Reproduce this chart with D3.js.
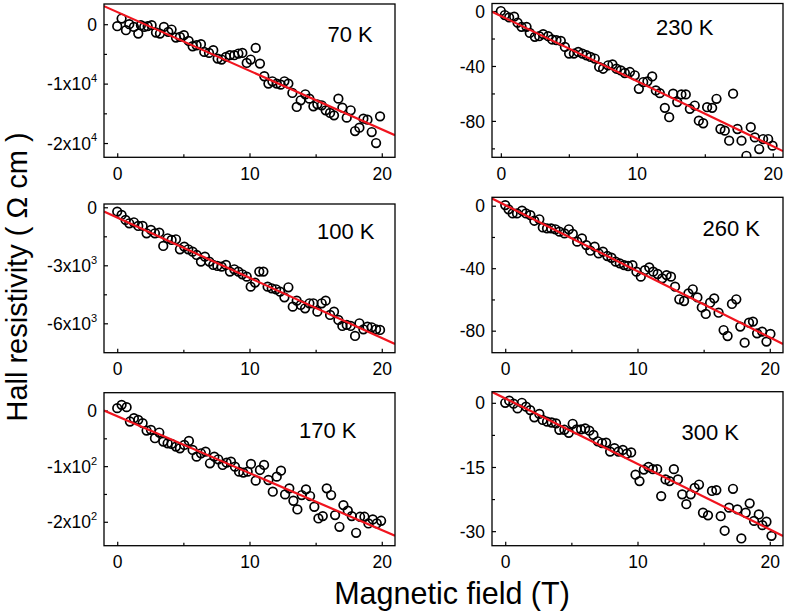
<!DOCTYPE html>
<html><head><meta charset="utf-8">
<script src="https://cdn.jsdelivr.net/npm/d3@7"></script>
<style>body{margin:0;background:#fff} text{font-family:Arial,"Liberation Sans",sans-serif;fill:#000}</style>
</head><body><svg id="c" width="787" height="615"></svg>
<script>
// ---------- data ----------
const temperatures = ["70 K","230 K","100 K","260 K","170 K","300 K"];

const field1 = [0,0.33,0.66,0.91,1.26,1.59,1.79,2.04,2.3,2.6,2.93,3.23,3.53,3.86,4.11,4.44,4.74,5.04,5.4,5.7,6.0,6.33,6.58,6.94,7.26,7.59,7.89,8.22,8.52,8.85,9.16,9.46,9.79,10.09,10.47,10.79,11.12,11.43,11.73,12.06,12.36,12.64,12.94,13.24,13.57,13.87,14.22,14.53,14.83,15.13,15.46,15.76,16.09,16.39,16.72,17.02,17.35,17.65,17.98,18.31,18.61,18.92,19.24,19.57,19.87];
const hall1 = [-340,950,-1010,0,-450,-1570,-170,-450,-340,-170,-1400,-1570,-450,-1290,-900,-2250,-2130,-1850,-2810,-3710,-3540,-3370,-4660,-4830,-4380,-5790,-5950,-5510,-5220,-5220,-4940,-4830,-6520,-5950,-3990,-6630,-8760,-10000,-9610,-10000,-10170,-9610,-10000,-11570,-13930,-12810,-11800,-12530,-13820,-13480,-13650,-14490,-14940,-15340,-12530,-14040,-15730,-14490,-17980,-17420,-15900,-16070,-18150,-20000,-15510];

const field2 = [0,0.29,0.61,0.98,1.23,1.52,1.89,2.13,2.5,2.82,3.11,3.48,3.77,4.09,4.41,4.71,5.02,5.37,5.69,6.0,6.3,6.59,6.91,7.23,7.52,7.89,8.21,8.5,8.82,9.12,9.49,9.85,10.15,10.47,10.78,11.13,11.4,11.69,12.06,12.38,12.67,12.97,13.28,13.6,13.9,14.26,14.56,14.88,15.17,15.54,15.86,16.15,16.47,16.79,17.08,17.4,17.7,18.06,18.38,18.68,19.0,19.29,19.66,19.98];
const hall2 = [0,-2.9,-4.6,-4.1,-8.5,-11.5,-11.5,-15.9,-18.8,-18.3,-16.8,-18.3,-20.7,-21.2,-21.7,-26.1,-31,-31,-29.8,-31,-32.2,-33.4,-34.6,-40.7,-42,-39.5,-38.8,-42,-43.2,-45.1,-44.4,-46.8,-56.6,-51.7,-51.2,-47.6,-57.8,-59.8,-70.5,-77.3,-60.2,-66.3,-60.7,-60.7,-71.2,-68.8,-79.8,-81.7,-70,-70.5,-63.9,-85.9,-87.1,-94.4,-60.2,-85.9,-94.4,-105.4,-84.6,-92,-100.5,-93.2,-93.2,-98];

const field3 = [0,0.33,0.63,0.91,1.26,1.59,1.92,2.22,2.55,2.85,3.18,3.48,3.81,4.11,4.44,4.74,5.07,5.37,5.7,6.0,6.33,6.63,6.96,7.26,7.57,7.89,8.22,8.52,8.85,9.16,9.46,9.79,10.09,10.42,10.74,11.05,11.37,11.68,12.01,12.31,12.64,12.94,13.27,13.57,13.87,14.2,14.53,14.83,15.13,15.46,15.76,16.09,16.39,16.72,17.02,17.35,17.65,17.98,18.31,18.61,18.92,19.24,19.57,19.87];
const hall3 = [-224,-397,-655,-828,-776,-966,-966,-1345,-1172,-1345,-1310,-2000,-1603,-1690,-1655,-2172,-2034,-2172,-2293,-2465,-2810,-2552,-2810,-2983,-3034,-3069,-2983,-3327,-3207,-3327,-3465,-3586,-4103,-3896,-3327,-3327,-4103,-4189,-4241,-4362,-4655,-4138,-5138,-4827,-5051,-5224,-4965,-4965,-5396,-4965,-4827,-5568,-5396,-5827,-6137,-6086,-6137,-6655,-6000,-6310,-6172,-6206,-6310,-6344];

const field4 = [0,0.25,0.56,0.89,1.27,1.57,1.9,2.2,2.58,2.84,3.16,3.47,3.8,4.1,4.48,4.81,5.11,5.44,5.8,6.13,6.43,6.76,7.06,7.39,7.72,8.03,8.35,8.66,8.99,9.29,9.62,9.92,10.25,10.56,10.89,11.19,11.52,11.87,12.2,12.53,12.84,13.16,13.52,13.85,14.18,14.53,14.86,15.16,15.49,15.8,16.13,16.51,16.81,17.14,17.47,17.77,18.1,18.43,18.73,19.04,19.42,19.75,20.05];
const hall4 = [0.4,-2.3,-4.9,-4.9,-3.2,-4.9,-6,-9.6,-8.7,-13.9,-14.5,-14.5,-15.1,-16.6,-17.7,-15.1,-18.1,-23,-20.9,-25.2,-28.8,-26.2,-30.5,-29.4,-32.2,-33.3,-35.8,-36.9,-38,-38.6,-38,-42.2,-45.4,-41.2,-39.5,-42.2,-43.7,-46.5,-44.4,-45.4,-51.8,-59.9,-61,-56.1,-53.5,-58.7,-65.1,-69.3,-62.1,-59.3,-68.5,-79.6,-83.4,-62.9,-59.9,-77.4,-87.7,-74.9,-74.2,-81.7,-80.6,-87,-82.1];

const field5 = [0,0.33,0.71,0.96,1.26,1.59,1.92,2.22,2.55,2.85,3.18,3.48,3.81,4.11,4.44,4.74,5.07,5.42,5.7,6.0,6.33,6.68,7.01,7.34,7.64,7.97,8.27,8.6,8.9,9.21,9.53,9.86,10.11,10.47,10.79,11.1,11.43,11.76,12.06,12.38,12.69,13.01,13.32,13.62,13.95,14.27,14.58,14.9,15.21,15.54,15.84,16.17,16.47,16.8,17.1,17.43,17.73,18.06,18.36,18.69,18.99,19.32,19.62,19.95];
const hall5 = [4.2,10.2,6,-19.8,-13.8,-16.8,-22.8,-36,-34.8,-49.8,-39.6,-55.9,-58.9,-60.1,-64.9,-67.9,-61.9,-54.7,-70.9,-82.9,-76.9,-73.9,-94.9,-82.9,-87.7,-97.9,-93.7,-91.9,-100.9,-109.9,-111.7,-109.9,-96.1,-126.1,-106.9,-97.9,-124.9,-145.9,-118.9,-108.1,-150.8,-139.9,-162.2,-177.8,-152,-141.7,-153.8,-173,-194,-189.8,-139.9,-152,-188,-209,-170,-180.2,-189.8,-219.8,-191,-191,-203,-195.8,-203,-198.2];

const field6 = [0,0.3,0.63,0.93,1.26,1.57,1.89,2.2,2.58,2.83,3.16,3.51,3.84,4.09,4.47,4.8,5.1,5.4,5.73,6.04,6.36,6.67,7.0,7.32,7.63,7.93,8.26,8.56,8.89,9.19,9.52,9.85,10.15,10.48,10.83,11.16,11.49,11.79,12.12,12.42,12.75,13.06,13.38,13.69,14.02,14.32,14.65,14.95,15.33,15.63,15.96,16.29,16.59,16.92,17.22,17.55,17.85,18.18,18.48,18.81,19.17,19.44,19.75,20.13];
const hall6 = [0,0.5,-0.2,-1.3,0,-0.9,-1.7,-3.4,-2.6,-4,-4.4,-4.6,-4.8,-6.3,-6.3,-7,-4.9,-6.2,-6.2,-6,-6.5,-7.5,-9,-9.4,-9.3,-11.4,-10.6,-11.4,-11,-11.9,-11.6,-16.8,-18.3,-15.6,-15,-15.5,-15.5,-21.8,-17.9,-18.3,-15.5,-17.9,-21.4,-23.7,-21.4,-19.9,-19.1,-25.7,-26.3,-20.6,-20.4,-26.5,-29.9,-24.5,-20.1,-24.9,-31.7,-25.7,-23.5,-27.6,-26.1,-28.6,-27.8,-31.1];

// linear fits (slope, intercept)
const fitSlope = [-988, -4.743, -311.1, -4.236, -10.23, -1.53];
const fitIntercept = [2047, -3.58, -535, 0.45, -10.23, 1.02];

// axis ranges and ticks
const xDomains = [[-1,21],[-0.65,20.75],[-1,21],[-1,21],[-1,21],[-1,21]];
const yDomains = [[-22400,3400],[-106.5,5.5],[-7520,170],[-94.1,5.4],[-243,32],[-33.4,2.6]];
const xTickValues = [0,10,20];
const xTickLabels = ["0","10","20"];
const xMinorTicks = [5,15];
const yTickValues = [[0,-10000,-20000],[0,-40,-80],[0,-3000,-6000],[0,-40,-80],[0,-100,-200],[0,-15,-30]];
const yTickLabels = [["0","-1x10^4","-2x10^4"],["0","-40","-80"],["0","-3x10^3","-6x10^3"],["0","-40","-80"],["0","-1x10^2","-2x10^2"],["0","-15","-30"]];
const yMinorTicks = [[-5000,-15000],[-20,-60,-100],[-1500,-4500],[-20,-60],[-50,-150],[-7.5,-22.5]];

const fields = [field1,field2,field3,field4,field5,field6];
const halls = [hall1,hall2,hall3,hall4,hall5,hall6];

// ---------- layout ----------
const boxes = [
  {x0:104,x1:395,y0:4,y1:157.3},
  {x0:492,x1:783,y0:3.5,y1:157.3},
  {x0:104,x1:395,y0:204,y1:352.7},
  {x0:492,x1:783,y0:197.3,y1:352.7},
  {x0:104,x1:395,y0:392.7,y1:545.7},
  {x0:492,x1:783,y0:391.7,y1:545.7}
];
const labelPos = [[327.5,41.7],[656,35],[317,239.3],[702.5,236],[299,438.3],[681.5,440]];

const svg = d3.select("#c");
svg.append("rect").attr("width",787).attr("height",615).attr("fill","#fff");
const RED = "#f0141e";

boxes.forEach((b,i) => {
  const x = d3.scaleLinear().domain(xDomains[i]).range([b.x0,b.x1]);
  const y = d3.scaleLinear().domain(yDomains[i]).range([b.y1,b.y0]);
  const g = svg.append("g");
  const cid = "clip"+i;
  svg.append("clipPath").attr("id",cid).append("rect")
    .attr("x",b.x0).attr("y",b.y0).attr("width",b.x1-b.x0).attr("height",b.y1-b.y0);

  // x axis major
  const gx = g.append("g").attr("transform",`translate(0,${b.y1})`)
    .call(d3.axisBottom(x).tickValues(xTickValues).tickFormat((d,k)=>xTickLabels[k]).tickSizeInner(-4).tickSizeOuter(0).tickPadding(7));
  gx.select(".domain").remove();
  gx.selectAll("text").attr("font-size",17.5).attr("font-family","Arial, 'Liberation Sans', sans-serif").attr("dy","0.9em");
  gx.selectAll("line").attr("stroke","#000").attr("stroke-width",1.2);
  const gxm = g.append("g").attr("transform",`translate(0,${b.y1})`)
    .call(d3.axisBottom(x).tickValues(xMinorTicks).tickFormat("").tickSizeInner(-3).tickSizeOuter(0));
  gxm.select(".domain").remove();
  gxm.selectAll("line").attr("stroke","#000").attr("stroke-width",1.2);

  // y axis major
  const gy = g.append("g").attr("transform",`translate(${b.x0},0)`)
    .call(d3.axisLeft(y).tickValues(yTickValues[i]).tickFormat("").tickSizeInner(-4).tickSizeOuter(0).tickPadding(7));
  gy.select(".domain").remove();
  gy.selectAll("line").attr("stroke","#000").attr("stroke-width",1.2);
  gy.selectAll(".tick").each(function(d,k){
    const parts = yTickLabels[i][k].split("^");
    const t = d3.select(this).select("text")
      .attr("font-size",17.5).attr("x",-7).attr("dy","0.35em")
      .attr("font-family","Arial, 'Liberation Sans', sans-serif").text(null);
    t.append("tspan").text(parts[0]);
    if (parts[1]) t.append("tspan").attr("font-size",11).attr("dy","-0.75em").text(parts[1]);
  });
  const gym = g.append("g").attr("transform",`translate(${b.x0},0)`)
    .call(d3.axisLeft(y).tickValues(yMinorTicks[i]).tickFormat("").tickSizeInner(-3).tickSizeOuter(0));
  gym.select(".domain").remove();
  gym.selectAll("line").attr("stroke","#000").attr("stroke-width",1.2);

  // data points
  const pts = fields[i].map((f,k)=>[f,halls[i][k]]);
  g.append("g").attr("clip-path",`url(#${cid})`).selectAll("circle").data(pts).join("circle")
    .attr("cx",d=>x(d[0])).attr("cy",d=>y(d[1])).attr("r",4.3)
    .attr("fill","none").attr("stroke","#000").attr("stroke-width",1.7);

  // fit line
  const xd = xDomains[i];
  const linePts = xd.map(v=>[v, fitSlope[i]*v + fitIntercept[i]]);
  g.append("path").attr("clip-path",`url(#${cid})`)
    .attr("d", d3.line().x(d=>x(d[0])).y(d=>y(d[1]))(linePts))
    .attr("fill","none").attr("stroke",RED).attr("stroke-width",2.2);

  // frame
  g.append("rect").attr("x",b.x0).attr("y",b.y0).attr("width",b.x1-b.x0).attr("height",b.y1-b.y0)
    .attr("fill","none").attr("stroke","#000").attr("stroke-width",1.3);

  // temperature label
  g.append("text").attr("x",labelPos[i][0]).attr("y",labelPos[i][1])
    .attr("font-size",22).text(temperatures[i]);
});

// axis titles
svg.append("text").attr("x",452).attr("y",604).attr("text-anchor","middle")
  .attr("font-size",30.5).text("Magnetic field (T)");
svg.append("text").attr("transform","translate(27,277) rotate(-90)").attr("text-anchor","middle")
  .attr("font-size",29).text("Hall resistivity ( \u03A9 cm )");
</script></body></html>
